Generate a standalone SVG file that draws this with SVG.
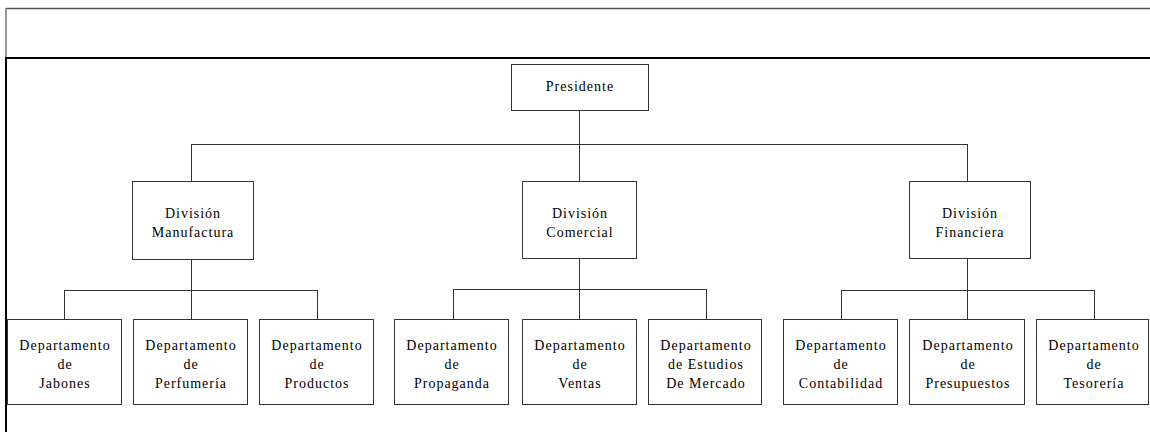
<svg xmlns="http://www.w3.org/2000/svg" width="1150" height="432" viewBox="0 0 1150 432">
<style>
.box{fill:#fff;stroke:#333;stroke-width:1}
.t{font-family:"Liberation Serif","Times New Roman",serif;font-size:14px;letter-spacing:1px;fill:#000;text-anchor:middle}
.c{fill:none;stroke:#333;stroke-width:1}
</style>
<rect width="1150" height="432" fill="#fff"/>
<g id="frame">
<line x1="6" y1="8.5" x2="1150" y2="8.5" stroke="#555" stroke-width="1.5"/>
<line x1="6" y1="8" x2="6" y2="58" stroke="#777" stroke-width="1.5"/>
<line x1="5" y1="58" x2="1150" y2="58" stroke="#000" stroke-width="2"/>
<line x1="6" y1="57" x2="6" y2="432" stroke="#000" stroke-width="2"/>
</g>
<g id="connectors">
<path class="c" d="M579.5 111V181M191.5 144.5H967.5M191.5 144V181M967.5 144V181"/>
<path class="c" d="M191.5 260V291M64.5 290.5H317.5M64.5 290V319M191.5 290V319M317.5 290V319"/>
<path class="c" d="M579.5 259V319M453.5 289.5H706.5M453.5 289V319M706.5 289V319"/>
<path class="c" d="M967.5 259V319M841.5 290.5H1094.5M841.5 290V319M1094.5 290V319"/>
</g>
<g id="presidente"><rect class="box" x="511.5" y="64.5" width="137" height="46"/><text class="t" x="580" y="91">Presidente</text></g>
<g id="div-manufactura"><rect class="box" x="132.5" y="181.5" width="121" height="78"/><text class="t" x="193" y="218">División</text><text class="t" x="193" y="237">Manufactura</text></g>
<g id="div-comercial"><rect class="box" x="522.5" y="181.5" width="114" height="77"/><text class="t" x="580" y="218">División</text><text class="t" x="580" y="237">Comercial</text></g>
<g id="div-financiera"><rect class="box" x="909.5" y="181.5" width="121" height="77"/><text class="t" x="970" y="218">División</text><text class="t" x="970" y="237">Financiera</text></g>
<g id="dep-jabones"><rect class="box" x="7.5" y="319.5" width="114" height="85"/><text class="t" x="65" y="350">Departamento</text><text class="t" x="65" y="369">de</text><text class="t" x="65" y="388">Jabones</text></g>
<g id="dep-perfumeria"><rect class="box" x="133.5" y="319.5" width="114" height="85"/><text class="t" x="191" y="350">Departamento</text><text class="t" x="191" y="369">de</text><text class="t" x="191" y="388">Perfumería</text></g>
<g id="dep-productos"><rect class="box" x="259.5" y="319.5" width="114" height="85"/><text class="t" x="317" y="350">Departamento</text><text class="t" x="317" y="369">de</text><text class="t" x="317" y="388">Productos</text></g>
<g id="dep-propaganda"><rect class="box" x="394.5" y="319.5" width="114" height="85"/><text class="t" x="452" y="350">Departamento</text><text class="t" x="452" y="369">de</text><text class="t" x="452" y="388">Propaganda</text></g>
<g id="dep-ventas"><rect class="box" x="522.5" y="319.5" width="114" height="85"/><text class="t" x="580" y="350">Departamento</text><text class="t" x="580" y="369">de</text><text class="t" x="580" y="388">Ventas</text></g>
<g id="dep-estudios"><rect class="box" x="648.5" y="319.5" width="113" height="85"/><text class="t" x="706" y="350">Departamento</text><text class="t" x="706" y="369">de Estudios</text><text class="t" x="706" y="388">De Mercado</text></g>
<g id="dep-contabilidad"><rect class="box" x="783.5" y="319.5" width="114" height="85"/><text class="t" x="841" y="350">Departamento</text><text class="t" x="841" y="369">de</text><text class="t" x="841" y="388">Contabilidad</text></g>
<g id="dep-presupuestos"><rect class="box" x="909.5" y="319.5" width="115" height="85"/><text class="t" x="968" y="350">Departamento</text><text class="t" x="968" y="369">de</text><text class="t" x="968" y="388">Presupuestos</text></g>
<g id="dep-tesoreria"><rect class="box" x="1036.5" y="319.5" width="112" height="85"/><text class="t" x="1094" y="350">Departamento</text><text class="t" x="1094" y="369">de</text><text class="t" x="1094" y="388">Tesorería</text></g>
</svg>
